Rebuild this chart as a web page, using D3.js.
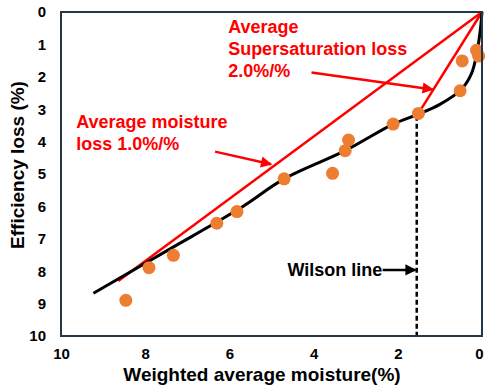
<!DOCTYPE html>
<html>
<head>
<meta charset="utf-8">
<script src="https://cdn.jsdelivr.net/npm/d3@7"></script>
<style>
  body { margin: 0; background: #fff; }
  text { font-family: "Liberation Sans", Arial, sans-serif; font-weight: bold; }
</style>
</head>
<body>
<svg id="chart"></svg>
<script>
// measured points (weighted moisture %, efficiency loss %)
const moisture = [8.46, 7.91, 7.33, 6.30, 5.82, 4.70, 3.55, 3.25, 3.17, 2.11, 1.51, 0.52, 0.47, 0.13, 0.08];
const effLoss  = [8.90, 7.89, 7.51, 6.52, 6.16, 5.15, 4.98, 4.28, 3.95, 3.46, 3.13, 2.43, 1.51, 1.18, 1.36];

// fitted trend (black)
const fitX = [9.23, 7.5, 5.75, 4.70, 3.25, 2.11, 1.51, 1.0, 0.5, 0.25, 0.12, 0.04, 0];
const fitY = [8.68, 7.38, 6.06, 5.15, 4.28, 3.46, 3.15, 2.85, 2.40, 1.90, 1.25, 0.55, 0];

// average loss lines (red)
const moistLineX = [0, 8.64];
const moistLineY = [0, 8.30];
const superLineX = [0, 1.51];
const superLineY = [0, 3.13];

const wilsonX = 1.55;
const wilsonY = [3.2, 10];

const xTicks = [10, 8, 6, 4, 2, 0];
const yTicks = [0, 1, 2, 3, 4, 5, 6, 7, 8, 9, 10];

const width = 485, height = 391;
const margin = {top: 12, right: 3, bottom: 55, left: 61};

const svg = d3.select("#chart")
    .attr("width", width)
    .attr("height", height);

const x = d3.scaleLinear().domain([10, 0]).range([margin.left, width - margin.right]);
const y = d3.scaleLinear().domain([0, 10]).range([margin.top, height - margin.bottom]);

// arrow heads
const defs = svg.append("defs");
[["arrRed", "#ff0000"], ["arrBlack", "#000"]].forEach(([id, c]) => {
  defs.append("marker")
      .attr("id", id)
      .attr("viewBox", "0 0 10 10")
      .attr("refX", 9).attr("refY", 5)
      .attr("markerWidth", 5).attr("markerHeight", 4.5)
      .attr("markerUnits", "strokeWidth")
      .attr("orient", "auto")
    .append("path")
      .attr("d", "M0,0L10,5L0,10Z")
      .attr("fill", c);
});

// axes, no tick marks
const xAxis = svg.append("g")
    .attr("transform", `translate(0,${height - margin.bottom})`)
    .call(d3.axisBottom(x).tickValues(xTicks).tickSize(0).tickPadding(12));
xAxis.select(".domain").remove();
xAxis.selectAll("text").attr("font-size", 15).attr("fill", "#000")
    .style("font-family", "'Liberation Sans', Arial, sans-serif").style("font-weight", "bold");
// keep the last label inside the window
xAxis.selectAll("text").filter(d => d === 0).attr("dx", -3);

const yAxis = svg.append("g")
    .attr("transform", `translate(${margin.left},0)`)
    .call(d3.axisLeft(y).tickValues(yTicks).tickSize(0).tickPadding(15));
yAxis.select(".domain").remove();
yAxis.selectAll("text").attr("font-size", 15).attr("fill", "#000")
    .style("font-family", "'Liberation Sans', Arial, sans-serif").style("font-weight", "bold");

// wilson line
svg.append("line")
    .attr("x1", x(wilsonX)).attr("x2", x(wilsonX))
    .attr("y1", y(wilsonY[0])).attr("y2", y(wilsonY[1]))
    .attr("stroke", "#000")
    .attr("stroke-width", 2.5)
    .attr("stroke-dasharray", "5,3");

// red average lines
const line = d3.line().x(d => x(d[0])).y(d => y(d[1]));
[[moistLineX, moistLineY], [superLineX, superLineY]].forEach(([xs, ys]) => {
  svg.append("path")
      .datum(xs.map((v, i) => [v, ys[i]]))
      .attr("d", line)
      .attr("fill", "none")
      .attr("stroke", "#ff0000")
      .attr("stroke-width", 2.5);
});

// fitted curve
svg.append("path")
    .datum(fitX.map((v, i) => [v, fitY[i]]))
    .attr("d", line.curve(d3.curveCatmullRom.alpha(0.5)))
    .attr("fill", "none")
    .attr("stroke", "#000")
    .attr("stroke-width", 3);

// data points
svg.append("g")
  .selectAll("circle")
  .data(moisture.map((v, i) => [v, effLoss[i]]))
  .join("circle")
    .attr("cx", d => x(d[0]))
    .attr("cy", d => y(d[1]))
    .attr("r", 6.5)
    .attr("fill", "#ed7d31");

// frame
svg.append("rect")
    .attr("x", x(10)).attr("y", y(0))
    .attr("width", x(0) - x(10))
    .attr("height", y(10) - y(0))
    .attr("fill", "none")
    .attr("stroke", "#243746")
    .attr("stroke-width", 2);

// annotations
const arrows = [
  {from: [6.34, 4.31], to: [5.01, 4.70], color: "#ff0000", marker: "arrRed"},
  {from: [4.05, 1.87], to: [1.17, 2.39], color: "#ff0000", marker: "arrRed"},
  {from: [2.36, 7.96], to: [1.58, 7.96], color: "#000", marker: "arrBlack"}
];
arrows.forEach(a => {
  svg.append("line")
      .attr("x1", x(a.from[0])).attr("y1", y(a.from[1]))
      .attr("x2", x(a.to[0])).attr("y2", y(a.to[1]))
      .attr("stroke", a.color)
      .attr("stroke-width", 2.5)
      .attr("marker-end", `url(#${a.marker})`);
});

function label(lines, px, py, color, anchor) {
  const t = svg.append("text")
      .attr("x", x(px)).attr("y", y(py))
      .attr("fill", color)
      .attr("font-size", 18)
      .attr("text-anchor", anchor || "start");
  lines.forEach((s, i) => {
    t.append("tspan").attr("x", x(px)).attr("dy", i ? 22 : 0).text(s);
  });
}
label(["Average", "Supersaturation loss", "2.0%/%"], 6.03, 0.65, "#ff0000");
label(["Average moisture", "loss 1.0%/%"], 9.64, 3.59, "#ff0000");
label(["Wilson line"], 2.37, 8.15, "#000", "end");

// axis titles
svg.append("text")
    .attr("x", 262).attr("y", 381)
    .attr("text-anchor", "middle")
    .attr("font-size", 19)
    .text("Weighted average moisture(%)");

svg.append("text")
    .attr("transform", "translate(24,165) rotate(-90)")
    .attr("text-anchor", "middle")
    .attr("font-size", 19)
    .text("Efficiency loss (%)");
</script>
</body>
</html>
